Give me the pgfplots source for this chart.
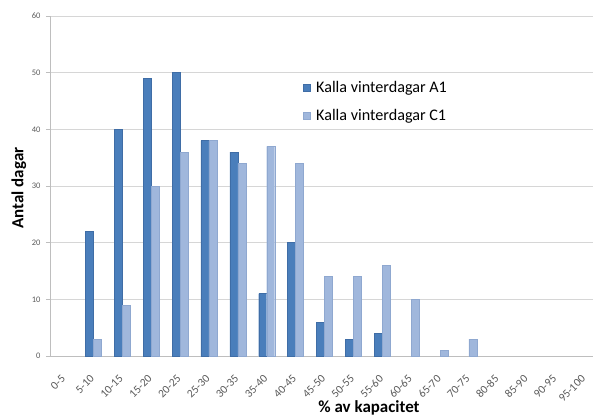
\documentclass[border=0pt]{standalone}
\usepackage{pgfplots}
\pgfplotsset{compat=1.18}
\usepackage{fontspec}
\setmainfont{Carlito}
\definecolor{aone}{HTML}{4A7EBB}
\definecolor{aonedark}{HTML}{3F6DA6}
\definecolor{cone}{HTML}{A0B7DC}
\definecolor{conedark}{HTML}{8FA8D0}
\definecolor{gridc}{HTML}{D6D6D6}
\definecolor{axc}{HTML}{BEBEBE}
\definecolor{tickc}{HTML}{595959}
\pgfplotsset{sqlegend/.style={legend image code/.code={\fill[##1] (0bp,-3.5bp) rectangle (7bp,3.5bp);}}}
\begin{document}
\begin{tikzpicture}
\begin{axis}[
  at={(0,0)}, anchor=south west,
  scale only axis, width=549bp, height=340bp,
  xmin=-0.5, xmax=18.5, ymin=0, ymax=60,
  axis x line*=bottom, axis y line*=left,
  axis line style={axc, line width=0.8pt, -},
  ybar, bar width=8bp,
  ytick={0,10,...,60},
  ymajorgrids, grid style={gridc, line width=1pt},
  tick align=outside,
  major tick length=4bp,
  minor tick length=4bp,
  tick style={axc, line width=0.8pt},
  xtick={0,...,18},
  x tick style={draw=none},
  minor xtick={-0.5,0.5,...,18.5},
  minor x tick style={axc, line width=0.8pt},
  xticklabels={0-5,5-10,10-15,15-20,20-25,25-30,30-35,35-40,40-45,45-50,50-55,55-60,60-65,65-70,70-75,80-85,85-90,90-95,95-100},
  xticklabel style={yshift=-17bp, xshift=-1bp, rotate=45, anchor=east, inner sep=0pt, font=\fontsize{11.5}{12}\selectfont, text=tickc},
  yticklabel style={font=\fontsize{8.5}{10}\selectfont, text=tickc, xshift=-2bp},
  /pgf/number format/assume math mode=true,
  xlabel={\textbf{\% av kapacitet}},
  ylabel={\textbf{Antal dagar}},
  every axis x label/.style={at={(axis description cs:0.581,-0.153)}, anchor=center, font=\fontsize{17}{20}\selectfont},
  every axis y label/.style={at={(axis description cs:-0.0565,0.494)}, rotate=90, anchor=center, font=\fontsize{17}{20}\selectfont},
  legend style={at={(0.461,0.818)}, anchor=north west, draw=none, fill=none, font=\fontsize{16.2}{19}\selectfont, row sep=8bp, inner sep=0pt, nodes={inner sep=3.5bp}, /tikz/every odd column/.append style={column sep=2bp}},
  legend cell align=left,
]
\addplot[ybar, bar shift=-4bp, fill=aone, draw=aonedark, line width=0.4pt, sqlegend] coordinates {
 (1,22) (2,40) (3,49) (4,50) (5,38) (6,36) (7,11) (8,20) (9,6) (10,3) (11,4)
};
\addlegendentry{Kalla vinterdagar A1}
\addplot[ybar, bar shift=4bp, fill=cone, draw=conedark, line width=0.4pt, sqlegend] coordinates {
 (1,3) (2,9) (3,30) (4,36) (5,38) (6,34) (7,37) (8,34) (9,14) (10,14) (11,16) (12,10) (13,1) (14,3)
};
\addlegendentry{Kalla vinterdagar C1}
\end{axis}
\pgfresetboundingbox
\path[use as bounding box] (-50bp,-63bp) rectangle (543bp,356bp);
\end{tikzpicture}
\end{document}
